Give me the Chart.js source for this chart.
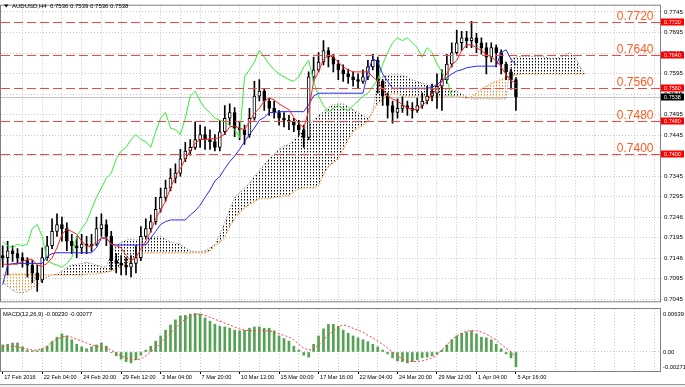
<!DOCTYPE html>
<html>
<head>
<meta charset="utf-8">
<script src="https://cdn.jsdelivr.net/npm/chart.js@4.4.1/dist/chart.umd.min.js"></script>
<style>
  body { margin: 0; background: #fff; }
  #wrap { position: relative; width: 685px; height: 387px; overflow: hidden; }
  canvas { position: absolute; left: 0; }
  #priceChart { top: 0; }
  #macdChart { top: 307px; }
</style>
</head>
<body>
<div id="wrap">
  <canvas id="priceChart" width="685" height="307"></canvas>
  <canvas id="macdChart" width="685" height="80"></canvas>
</div>
<script>
// AUDUSD H4, one point = two H4 bars
const symbolTitle = "AUDUSD,H4";
const lastBar = [0.7536, 0.7539, 0.7536, 0.7538];

const dateLabels = ["17 Feb 2016", "22 Feb 04:00", "24 Feb 20:00", "29 Feb 12:00", "3 Mar 04:00",
  "7 Mar 20:00", "10 Mar 12:00", "15 Mar 00:00", "17 Mar 16:00", "22 Mar 04:00", "24 Mar 20:00",
  "29 Mar 12:00", "1 Apr 04:00", "5 Apr 16:00"];
const pointsPerDateLabel = 8;
const pointsPerGridLine = 4;

const priceTicks = [0.7045, 0.7095, 0.7145, 0.7195, 0.7245, 0.7295, 0.7345, 0.7395, 0.7445, 0.7495,
  0.7545, 0.7595, 0.7645, 0.7695, 0.7745];
const priceTickLabels = ["0.7045", "0.7095", "0.7146", "0.7195", "0.7246", "0.7295", "0.7345", "0.7395",
  "0.7445", "0.7495", "0.7545", "0.7595", "0.7645", "0.7695", "0.7745"];
const levels = [0.7720, 0.7640, 0.7560, 0.7480, 0.7400];
const macdTicks = [0.00639, 0, -0.00271];
const macdTickLabels = ["0.00639", "0.00", "-0.00271"];

const openPrice = [
  .7151,.7146,.7163,.7156,.7146,.7139,.7128,.7109,.7092,.7146,
  .7175,.7210,.7227,.7217,.7186,.7175,.7170,.7179,.7175,.7179,
  .7217,.7227,.7198,.7139,.7132,.7128,.7123,.7132,.7146,.7198,
  .7217,.7234,.7264,.7293,.7316,.7340,.7352,.7387,.7406,.7415,
  .7434,.7446,.7434,.7429,.7415,.7453,.7486,.7500,.7462,.7458,
  .7446,.7486,.7540,.7552,.7528,.7510,.7500,.7486,.7481,.7477,
  .7469,.7458,.7439,.7587,.7604,.7623,.7651,.7635,.7618,.7604,
  .7594,.7587,.7580,.7576,.7587,.7611,.7627,.7576,.7540,.7517,
  .7500,.7510,.7517,.7510,.7505,.7517,.7528,.7540,.7547,.7564,
  .7580,.7618,.7646,.7670,.7682,.7675,.7682,.7670,.7658,.7635,
  .7658,.7646,.7618,.7599,.7580];
const highPrice = [
  .7175,.7186,.7175,.7168,.7158,.7146,.7139,.7128,.7170,.7198,
  .7241,.7253,.7245,.7231,.7203,.7198,.7203,.7198,.7203,.7245,
  .7253,.7238,.7210,.7156,.7151,.7146,.7151,.7175,.7222,.7241,
  .7250,.7293,.7316,.7335,.7363,.7375,.7410,.7427,.7434,.7477,
  .7469,.7465,.7458,.7446,.7481,.7517,.7521,.7512,.7477,.7469,
  .7510,.7576,.7580,.7557,.7535,.7528,.7505,.7500,.7493,.7486,
  .7481,.7469,.7599,.7635,.7646,.7675,.7658,.7642,.7627,.7616,
  .7606,.7599,.7594,.7604,.7627,.7642,.7635,.7580,.7547,.7528,
  .7533,.7538,.7528,.7524,.7535,.7547,.7564,.7569,.7594,.7604,
  .7642,.7670,.7701,.7698,.7698,.7722,.7693,.7682,.7670,.7670,
  .7665,.7653,.7623,.7606,.7585];
const lowPrice = [
  .7123,.7104,.7137,.7132,.7123,.7099,.7085,.7064,.7085,.7139,
  .7168,.7198,.7186,.7163,.7156,.7146,.7156,.7156,.7161,.7175,
  .7198,.7175,.7116,.7109,.7104,.7104,.7099,.7109,.7139,.7194,
  .7208,.7227,.7257,.7283,.7309,.7328,.7345,.7380,.7396,.7410,
  .7415,.7410,.7410,.7406,.7406,.7446,.7469,.7441,.7434,.7422,
  .7439,.7481,.7528,.7505,.7493,.7486,.7469,.7465,.7458,.7453,
  .7444,.7415,.7434,.7576,.7599,.7616,.7611,.7599,.7580,.7576,
  .7571,.7564,.7559,.7571,.7580,.7604,.7547,.7517,.7486,.7474,
  .7486,.7500,.7493,.7486,.7500,.7510,.7521,.7528,.7510,.7505,
  .7571,.7611,.7642,.7651,.7658,.7658,.7646,.7642,.7594,.7623,
  .7611,.7594,.7580,.7557,.7505];
const closePrice = [
  .7146,.7163,.7156,.7146,.7139,.7128,.7109,.7092,.7146,.7175,
  .7210,.7227,.7217,.7186,.7175,.7170,.7179,.7175,.7179,.7217,
  .7227,.7198,.7139,.7132,.7128,.7123,.7132,.7146,.7198,.7217,
  .7234,.7264,.7293,.7316,.7340,.7352,.7387,.7406,.7415,.7434,
  .7446,.7434,.7429,.7415,.7453,.7486,.7500,.7462,.7458,.7446,
  .7486,.7540,.7552,.7528,.7510,.7500,.7486,.7481,.7477,.7469,
  .7458,.7439,.7587,.7604,.7623,.7651,.7635,.7618,.7604,.7594,
  .7587,.7580,.7576,.7587,.7611,.7627,.7576,.7540,.7517,.7500,
  .7510,.7517,.7510,.7505,.7517,.7528,.7540,.7547,.7564,.7580,
  .7618,.7646,.7670,.7682,.7675,.7682,.7670,.7658,.7635,.7658,
  .7646,.7618,.7599,.7580,.7538];

// Ichimoku lines
const tenkan = [
  .7130,.7130,.7130,.7130,.7137,.7142,.7142,.7128,.7125,.7132,
  .7146,.7170,.7203,.7215,.7210,.7203,.7186,.7175,.7172,.7184,
  .7194,.7194,.7179,.7175,.7170,.7151,.7139,.7146,.7168,.7186,
  .7210,.7241,.7262,.7283,.7316,.7344,.7363,.7387,.7406,.7425,
  .7434,.7434,.7436,.7436,.7439,.7448,.7465,.7467,.7462,.7458,
  .7477,.7498,.7510,.7528,.7535,.7531,.7521,.7514,.7507,.7488,
  .7474,.7462,.7505,.7576,.7599,.7630,.7639,.7635,.7623,.7611,
  .7604,.7599,.7599,.7599,.7599,.7587,.7576,.7557,.7540,.7533,
  .7528,.7519,.7512,.7507,.7507,.7517,.7528,.7545,.7557,.7576,
  .7594,.7616,.7627,.7651,.7665,.7665,.7658,.7651,.7642,.7635,
  .7627,.7611,.7592,.7578,.7571];
const kijun = [
  .7080,.7128,.7132,.7132,.7132,.7132,.7132,.7132,.7132,.7149,
  .7156,.7158,.7158,.7158,.7158,.7158,.7158,.7158,.7158,.7170,
  .7194,.7194,.7179,.7177,.7177,.7177,.7177,.7177,.7177,.7177,
  .7194,.7210,.7227,.7234,.7238,.7238,.7238,.7238,.7250,.7260,
  .7274,.7293,.7311,.7333,.7344,.7363,.7380,.7394,.7410,.7429,
  .7446,.7462,.7481,.7488,.7500,.7500,.7502,.7502,.7502,.7502,
  .7502,.7502,.7519,.7540,.7547,.7547,.7547,.7547,.7547,.7547,
  .7547,.7547,.7547,.7547,.7599,.7632,.7623,.7594,.7576,.7559,
  .7559,.7559,.7559,.7559,.7559,.7559,.7559,.7561,.7569,.7576,
  .7585,.7594,.7601,.7604,.7609,.7611,.7613,.7613,.7613,.7613,
  .7613,.7646,.7653,.7630,.7616];
const senkouA = [
  .7104,.7104,.7106,.7106,.7106,.7106,.7106,.7104,.7104,.7104,
  .7104,.7104,.7104,.7104,.7104,.7104,.7104,.7106,.7106,.7106,
  .7109,.7111,.7113,.7118,.7125,.7132,.7139,.7146,.7156,.7158,
  .7158,.7158,.7158,.7158,.7158,.7158,.7158,.7158,.7158,.7158,
  .7158,.7158,.7163,.7175,.7184,.7196,.7222,.7241,.7255,.7267,
  .7276,.7283,.7290,.7290,.7290,.7293,.7295,.7297,.7297,.7307,
  .7314,.7316,.7316,.7316,.7321,.7349,.7368,.7378,.7387,.7410,
  .7434,.7453,.7462,.7469,.7479,.7505,.7521,.7533,.7540,.7545,
  .7545,.7540,.7540,.7540,.7540,.7540,.7540,.7540,.7540,.7540,
  .7540,.7540,.7540,.7538,.7535,.7538,.7547,.7557,.7564,.7571,
  .7576,.7580,.7585,.7590,.7592,.7594,.7594,.7594,.7594,.7594,
  .7594,.7594,.7594,.7594,.7594,.7594,.7594,.7594,.7594];
const senkouB = [
  .7087,.7076,.7066,.7061,.7061,.7064,.7071,.7080,.7092,.7099,
  .7104,.7106,.7113,.7123,.7128,.7130,.7132,.7135,.7132,.7128,
  .7125,.7123,.7156,.7175,.7184,.7189,.7191,.7189,.7191,.7194,
  .7196,.7198,.7198,.7191,.7184,.7182,.7179,.7170,.7163,.7161,
  .7161,.7163,.7170,.7179,.7203,.7231,.7264,.7293,.7304,.7316,
  .7328,.7344,.7359,.7373,.7387,.7399,.7410,.7418,.7422,.7434,
  .7446,.7458,.7469,.7481,.7493,.7502,.7512,.7519,.7521,.7521,
  .7514,.7507,.7500,.7493,.7486,.7500,.7580,.7587,.7590,.7592,
  .7592,.7590,.7587,.7580,.7576,.7571,.7569,.7564,.7564,.7559,
  .7557,.7554,.7552,.7545,.7538,.7533,.7533,.7533,.7533,.7533,
  .7533,.7533,.7533,.7630,.7635,.7637,.7637,.7637,.7637,.7637,
  .7635,.7632,.7632,.7635,.7642,.7646,.7635,.7611,.7594];
const chikouShift = 13; // 26 H4 bars

const macdHist = [
  .0011,.0012,.0014,.0014,.0008,.0003,.0002,.0002,.0005,.0009,
  .0016,.0023,.0028,.0025,.0019,.0012,.0008,.0005,.0008,.0011,
  .0014,.0009,-.0001,-.0006,-.0011,-.0015,-.0017,-.0012,-.0005,.0003,
  .0009,.0017,.0025,.0034,.0042,.0050,.0056,.0057,.0059,.0060,
  .0059,.0053,.0048,.0043,.0040,.0039,.0037,.0034,.0033,.0034,
  .0037,.0039,.0039,.0037,.0037,.0033,.0025,.0021,.0017,.0009,
  .0003,-.0005,-.0008,.0012,.0025,.0036,.0043,.0043,.0040,.0034,
  .0029,.0025,.0022,.0019,.0016,.0012,.0008,.0003,-.0003,-.0009,
  -.0014,-.0015,-.0017,-.0015,-.0012,-.0009,-.0008,-.0006,-.0003,.0003,
  .0011,.0019,.0025,.0029,.0031,.0033,.0028,.0023,.0022,.0019,
  .0012,.0005,-.0003,-.0009,-.00230];
const macdSignal = [
  .0009,.0009,.0009,.0008,.0006,.0005,.0003,.0003,.0005,.0009,
  .0016,.0020,.0023,.0025,.0023,.0020,.0017,.0014,.0011,.0009,
  .0008,.0006,.0003,-.0002,-.0006,-.0009,-.0012,-.0012,-.0011,-.0006,
  .0000,.0006,.0014,.0022,.0029,.0037,.0045,.0051,.0056,.0059,
  .0059,.0057,.0054,.0051,.0048,.0045,.0042,.0039,.0036,.0034,
  .0033,.0033,.0033,.0033,.0033,.0031,.0028,.0026,.0023,.0019,
  .0012,.0006,.0003,.0005,.0011,.0019,.0026,.0033,.0039,.0042,
  .0040,.0037,.0034,.0031,.0026,.0022,.0017,.0012,.0006,.0000,
  -.0006,-.0011,-.0014,-.0015,-.0015,-.0014,-.0012,-.0009,-.0005,.0003,
  .0011,.0019,.0025,.0029,.0033,.0033,.0033,.0031,.0028,.0023,
  .0019,.0012,.0006,.0000,-.00077];

Chart.defaults.font.family = '"Liberation Sans", Arial, sans-serif';

const N = closePrice.length;
const xMin = -0.3445, xMax = 133.19;
const gridColor = "#c8c8c8";

// dotted hatching for the cloud
function dotPattern(canvasId, color, halo) {
  const c = document.createElement("canvas");
  c.width = 3;
  c.height = 3;
  const g = c.getContext("2d");
  g.fillStyle = halo;
  g.fillRect(1, 2, 1, 1);
  g.fillStyle = color;
  g.fillRect(1, 1, 1, 1);
  return document.getElementById(canvasId).getContext("2d").createPattern(c, "repeat");
}
const orangeDots = dotPattern("priceChart", "#f08a2a", "#f8c89a");
const blackDots = dotPattern("priceChart", "#000000", "#8c8c8c");

const pts = arr => arr.map((v, j) => ({ x: j, y: v }));

// price pane decorations: bid line, levels, axis boxes, title
const mainDeco = {
  id: "mainDeco",
  beforeDatasetsDraw(chart) {
    const { ctx, chartArea: a, scales } = chart;
    const py = Math.round(scales.y.getPixelForValue(closePrice[N - 1])) + 0.5;
    ctx.save();
    ctx.strokeStyle = "#c4c4c4";
    ctx.lineWidth = 1;
    ctx.beginPath();
    ctx.moveTo(a.left, py);
    ctx.lineTo(a.right, py);
    ctx.stroke();
    ctx.restore();
  },
  afterDatasetsDraw(chart) {
    const { ctx, chartArea: a, scales } = chart;
    ctx.save();
    ctx.strokeStyle = "#f04848";
    ctx.lineWidth = 1;
    ctx.setLineDash([9, 4]);
    ctx.font = '12px "Liberation Sans", Arial, sans-serif';
    ctx.fillStyle = "#ff5a1f";
    ctx.textAlign = "right";
    ctx.textBaseline = "alphabetic";
    levels.forEach(v => {
      const py = Math.round(scales.y.getPixelForValue(v)) + 0.5;
      ctx.beginPath();
      ctx.moveTo(a.left, py);
      ctx.lineTo(a.right, py);
      ctx.stroke();
      ctx.fillText(v.toFixed(4), a.right - 6.5, py - 3);
    });
    ctx.restore();
  },
  afterDraw(chart) {
    const { ctx, chartArea: a, scales } = chart;
    ctx.save();
    ctx.strokeStyle = "#808080";
    ctx.lineWidth = 1;
    ctx.strokeRect(a.left - 0.5, a.top - 0.5, a.right - a.left + 1, a.bottom - a.top + 1);

    ctx.font = '5.5px "Liberation Sans", Arial, sans-serif';
    ctx.textAlign = "center";
    ctx.textBaseline = "middle";
    const box = (v, bg) => {
      const py = Math.round(scales.y.getPixelForValue(v));
      ctx.fillStyle = bg;
      ctx.fillRect(a.right + 1, py - 3.5, 23, 7);
      ctx.fillStyle = "#fff";
      ctx.fillText(v.toFixed(4), a.right + 12.5, py + 0.5);
    };
    levels.forEach(v => box(v, "#ff0000"));
    box(closePrice[N - 1], "#000");

    // title
    ctx.fillStyle = "#000";
    ctx.beginPath();
    ctx.moveTo(4, 4.5);
    ctx.lineTo(8.5, 4.5);
    ctx.lineTo(6.25, 7.5);
    ctx.closePath();
    ctx.fill();
    ctx.font = '6px "Liberation Sans", Arial, sans-serif';
    ctx.textAlign = "left";
    ctx.fillText(symbolTitle + "  " + lastBar.map(v => v.toFixed(4)).join(" "), 12, 6.5);
    ctx.restore();
  }
};

const priceChart = new Chart(document.getElementById("priceChart"), {
  type: "bar",
  data: {
    datasets: [
      {
        type: "line", label: "Tenkan", data: pts(tenkan), order: 0,
        borderColor: "#ff2020", borderWidth: 1, pointRadius: 0
      },
      {
        type: "line", label: "Kijun", data: pts(kijun), order: 0,
        borderColor: "#2626ff", borderWidth: 1, pointRadius: 0
      },
      {
        type: "line", label: "Chikou", data: pts(closePrice.slice(chikouShift)), order: 0,
        borderColor: "#34ee34", borderWidth: 1, pointRadius: 0
      },
      {
        label: "Body", data: closePrice.map((c, j) => ({ x: j, y: [openPrice[j], c] })), order: 1,
        backgroundColor: closePrice.map((c, j) => (c < openPrice[j] ? "#000" : "#fff")),
        borderColor: "#000", borderWidth: 1, borderSkipped: false,
        barThickness: 3, grouped: false
      },
      {
        label: "Wick", data: closePrice.map((c, j) => ({ x: j, y: [lowPrice[j], highPrice[j]] })), order: 2,
        backgroundColor: "#000", barThickness: 1, grouped: false
      },
      {
        type: "line", label: "Senkou A", data: pts(senkouA), order: 3,
        borderColor: "#f4a050", borderWidth: 1.3, borderDash: [1.5, 1.5], pointRadius: 0,
        fill: { target: "+1", above: orangeDots, below: blackDots }
      },
      {
        type: "line", label: "Senkou B", data: pts(senkouB), order: 3,
        borderColor: "#555", borderWidth: 0.8, borderDash: [1, 2], pointRadius: 0
      }
    ]
  },
  options: {
    responsive: false,
    animation: false,
    events: [],
    devicePixelRatio: 1,
    layout: { padding: { left: 1, right: 0, top: 2, bottom: 1 } },
    plugins: { legend: { display: false }, tooltip: { enabled: false } },
    scales: {
      x: {
        type: "linear", min: xMin, max: xMax, offset: false,
        afterBuildTicks: s => {
          const t = [];
          for (let v = pointsPerGridLine; v <= xMax; v += pointsPerGridLine) t.push({ value: v });
          s.ticks = t;
        },
        afterFit: s => { s.height = 0; },
        ticks: { display: false },
        grid: { color: gridColor, drawTicks: false, offset: false },
        border: { display: false, dash: [1, 2] }
      },
      y: {
        position: "right", min: 0.703972, max: 0.776028,
        afterBuildTicks: s => { s.ticks = priceTicks.map(v => ({ value: v })); },
        afterFit: s => { s.width = 25; },
        ticks: {
          callback: (v, i) => priceTickLabels[i],
          font: { size: 6.2 }, color: "#000", padding: 2
        },
        grid: { color: gridColor, tickLength: 2 },
        border: { display: false, dash: [1, 2] }
      }
    }
  },
  plugins: [mainDeco]
});

// MACD pane
const macdDeco = {
  id: "macdDeco",
  afterDraw(chart) {
    const { ctx, chartArea: a, scales } = chart;
    ctx.save();
    ctx.strokeStyle = "#808080";
    ctx.lineWidth = 1;
    ctx.strokeRect(a.left - 0.5, a.top - 0.5, a.right - a.left + 1, a.bottom - a.top + 1);
    ctx.fillStyle = "#000";
    ctx.font = '5.8px "Liberation Sans", Arial, sans-serif';
    ctx.textAlign = "left";
    ctx.textBaseline = "middle";
    const nudge = [3, 0, -2.5];
    macdTicks.forEach((v, i) => {
      ctx.fillText(macdTickLabels[i], a.right + 3, scales.y.getPixelForValue(v) + nudge[i]);
    });
    const last = macdHist.length - 1;
    ctx.fillText("MACD(12,26,9) " + macdHist[last].toFixed(5) + " " + macdSignal[last].toFixed(5), 3, a.top + 5);
    // window bottom strip
    ctx.fillStyle = "#efefef";
    ctx.fillRect(0, 78, 685, 2);
    ctx.strokeStyle = "#9a9a9a";
    ctx.beginPath();
    ctx.moveTo(0, 77.5);
    ctx.lineTo(685, 77.5);
    ctx.stroke();
    ctx.restore();
  }
};

const macdChart = new Chart(document.getElementById("macdChart"), {
  type: "bar",
  data: {
    datasets: [
      {
        type: "line", label: "Signal", data: pts(macdSignal), order: 0,
        borderColor: "#ff3c3c", borderWidth: 1, borderDash: [2, 2], pointRadius: 0
      },
      {
        label: "MACD", data: pts(macdHist), order: 1,
        backgroundColor: "#55a255", barThickness: 2, grouped: false
      }
    ]
  },
  options: {
    responsive: false,
    animation: false,
    events: [],
    devicePixelRatio: 1,
    layout: { padding: { left: 1, right: 0, top: 2, bottom: 0 } },
    plugins: { legend: { display: false }, tooltip: { enabled: false } },
    scales: {
      x: {
        type: "linear", min: xMin, max: xMax, offset: false,
        afterBuildTicks: s => {
          const t = [];
          for (let v = 0; v <= xMax; v += pointsPerGridLine) t.push({ value: v });
          s.ticks = t;
        },
        afterFit: s => { s.height = 16; },
        ticks: {
          autoSkip: false, maxRotation: 0, minRotation: 0, align: "start", padding: 0,
          labelOffset: 1.5, font: { size: 5.6 }, color: "#000",
          callback: v => (v % pointsPerDateLabel === 0 ? (dateLabels[v / pointsPerDateLabel] || "") : "")
        },
        grid: {
          offset: false, tickLength: 3,
          color: c => (c.tick && c.tick.value === 0 ? "rgba(0,0,0,0)" : gridColor),
          tickColor: c => (c.tick && c.tick.value % pointsPerDateLabel === 0 &&
            dateLabels[c.tick.value / pointsPerDateLabel] ? "#000" : "rgba(0,0,0,0)")
        },
        border: { display: false, dash: [1, 2] }
      },
      y: {
        position: "right", min: -0.002955, max: 0.006687,
        afterBuildTicks: s => { s.ticks = [{ value: 0 }]; },
        afterFit: s => { s.width = 25; },
        ticks: { display: false },
        grid: { color: gridColor, drawTicks: false },
        border: { display: false, dash: [1, 2] }
      }
    }
  },
  plugins: [macdDeco]
});
</script>
</body>
</html>
